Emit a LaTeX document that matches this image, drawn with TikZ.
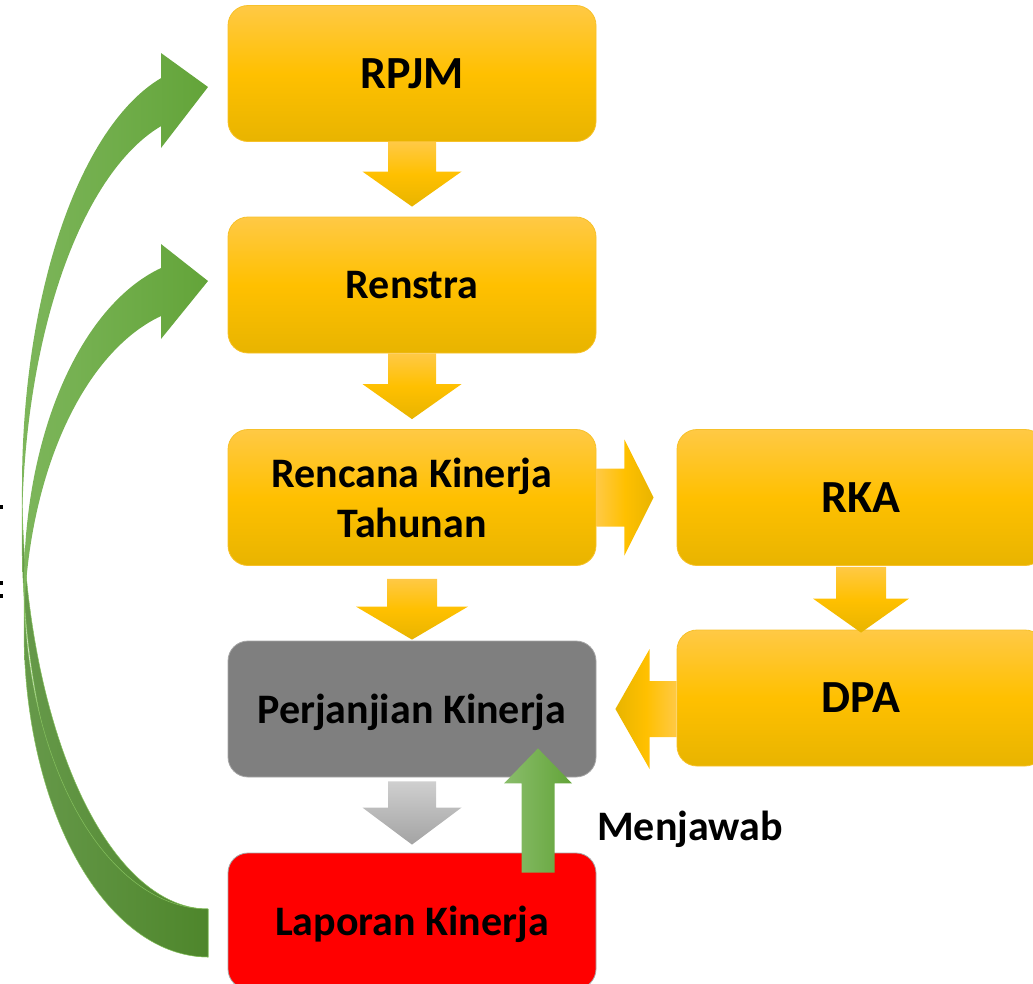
\documentclass[tikz,border=0pt]{standalone}
\usepackage{fontspec}
\setmainfont{Carlito}
\usetikzlibrary{calc}
\definecolor{ytop}{HTML}{FFC945}
\definecolor{ymid}{HTML}{FFC000}
\definecolor{ybot}{HTML}{E8B400}
\definecolor{yedge}{HTML}{F7C12A}
\definecolor{gbox}{HTML}{7F7F7F}
\definecolor{gedge}{HTML}{A6A6A6}
\definecolor{rbox}{HTML}{FF0000}
\definecolor{gatop}{HTML}{CFCFCF}
\definecolor{gabot}{HTML}{A3A3A3}
\definecolor{grL}{HTML}{7DB65B}
\definecolor{grR}{HTML}{63A439}
\definecolor{gbL}{HTML}{66994A}
\definecolor{gbR}{HTML}{4E862B}
\definecolor{gline}{HTML}{86C15E}
\newcommand{\vblock}[8]{%
  \path[#1] let \p1=(#2.south), \p2=(#3.north) in
   (\x1-#4,\y1-#7) -- (\x1-#4,\y2+#8+#6) -- (\x1-#5,\y2+#8+#6) -- (\x1,\y2+#8)
   -- (\x1+#5,\y2+#8+#6) -- (\x1+#4,\y2+#8+#6) -- (\x1+#4,\y1-#7) -- cycle;}
\begin{document}
\begin{tikzpicture}[x=1pt,y=-1pt,
  box/.style={rectangle, rounded corners=20pt, minimum width=368pt, minimum height=136pt,
    inner sep=0pt, align=center, text=black},
  small/.style={font=\bfseries\fontsize{42}{50}\selectfont},
  big/.style={font=\bfseries\fontsize{46}{52}\selectfont},
  ybox/.style={box, top color=ytop, bottom color=ybot, middle color=ymid, draw=yedge, line width=0.8pt},
  yarrow/.style={top color=ytop, bottom color=ybot, middle color=ymid},
  yharrow/.style={left color=ytop, right color=ybot, middle color=ymid},
  garrow/.style={top color=gatop, bottom color=gabot},
  greenup/.style={left color=grL!90!white, right color=grR},
  front/.style={left color=grL, right color=grR},
  back/.style={left color=gbL, right color=gbR, draw=gline, line width=0.5pt}]
\useasboundingbox (0,0) rectangle (1033,983);
\clip (0,0) rectangle (1033,983);

% green curved arrows (back bands)
\path[back] plot[domain=180:90, samples=60] ({208+186*cos(\x)},{486.7+422.3*sin(\x)})
  -- plot[domain=90:180, samples=60] ({208+186*cos(\x)},{534.7+422.3*sin(\x)}) -- cycle;
\path[back] plot[domain=180:90, samples=60] ({208+184*cos(\x)},{583.1+325.9*sin(\x)})
  -- plot[domain=90:180, samples=60] ({208+184*cos(\x)},{631.1+325.9*sin(\x)}) -- cycle;
% front bands with heads
\path[front] plot[domain=255.4:180, samples=60] ({208+186*cos(\x)},{486.7+422.3*sin(\x)})
  -- plot[domain=180:255.4, samples=60] ({208+186*cos(\x)},{534.7+422.3*sin(\x)})
  -- (161,148) -- (208,87) -- (161,53) -- cycle;
\path[front] plot[domain=255.2:180, samples=60] ({208+184*cos(\x)},{583.1+325.9*sin(\x)})
  -- plot[domain=180:255.2, samples=60] ({208+184*cos(\x)},{631.1+325.9*sin(\x)})
  -- (161,339) -- (208,281) -- (161,244) -- cycle;

% boxes
\node[ybox, big] (rpjm) at (412,73.5) {RPJM};
\node[ybox, small, text depth=0pt] (renstra) at (412,285) {Renstra};
\node[ybox, small] (rkt) at (412,497.5) {Rencana Kinerja\\Tahunan};
\node[ybox, big] (rka) at (861,497.5) {RKA};
\node[ybox, big] (dpa) at (861,698) {DPA};
\node[box, small, text depth=0pt, fill=gbox, draw=gedge, line width=0.8pt] (perj) at (412,709) {Perjanjian Kinerja};
\node[box, small, text depth=0pt, fill=rbox, draw=gedge, line width=0.8pt] (lap) at (412,921) {Laporan Kinerja};
\node[small, text depth=0pt, anchor=west, inner sep=0pt] (menj) at (597,826) {Menjawab};

% vertical block arrows
\vblock{yarrow}{rpjm}{renstra}{24}{49.5}{35}{0}{10}
\vblock{yarrow}{renstra}{rkt}{24}{49.5}{35}{0}{10}
\vblock{yarrow}{rkt}{perj}{25}{56}{33}{13}{1}
\vblock{yarrow}{rka}{dpa}{25}{48}{34}{1}{-3}
\vblock{garrow}{perj}{lap}{24}{49.5}{37}{4}{8}

% horizontal block arrows
\path[yharrow] let \p1=(rkt.east), \p2=(rka.west) in
  (\x1,\y1+29) -- (\x1+28,\y1+29) -- (\x1+28,\y1+58) -- (\x2-23,\y1) -- (\x1+28,\y1-58)
  -- (\x1+28,\y1-29) -- (\x1,\y1-29) -- cycle;
\path[left color=ybot, right color=ytop, middle color=ymid] let \p1=(dpa.west), \p2=(perj.east) in
  (\x1,\y2+28) -- (\x1-27,\y2+28) -- (\x1-27,\y2+60) -- (\x2+19,\y2) -- (\x1-27,\y2-60)
  -- (\x1-27,\y2-28) -- (\x1,\y2-28) -- cycle;

% green up arrow
\path[greenup] let \p1=(lap.north), \p2=(perj.south) in
  (\x1+109.5,\y1-20) -- (\x1+109.5,\y2-6) -- (\x1+92,\y2-6) -- (\x1+126,\y2+29)
  -- (\x1+160,\y2-6) -- (\x1+142.5,\y2-6) -- (\x1+142.5,\y1-20) -- cycle;

% cut-off marks at the left edge
\fill[black] (0,505) rectangle (3,509);
\fill[black] (0,581) rectangle (3,585);
\fill[black] (0,594) rectangle (3,598);
\end{tikzpicture}
\end{document}
